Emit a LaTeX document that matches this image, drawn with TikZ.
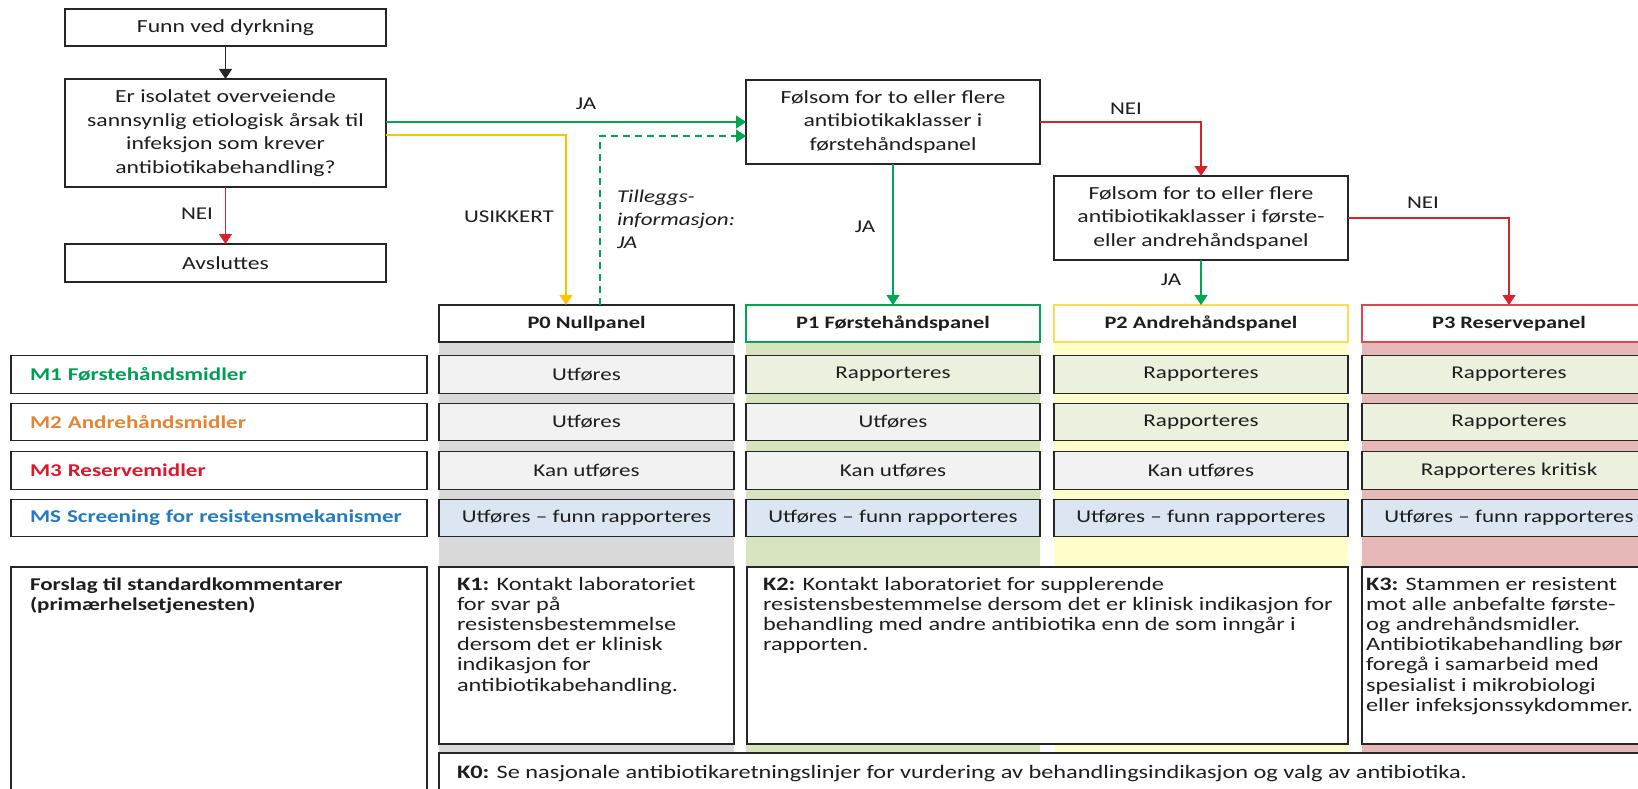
\documentclass[tikz,border=0pt]{standalone}
\usepackage{fontspec}
\setmainfont{Carlito}[FakeStretch=1.28]
\usetikzlibrary{arrows.meta}
\definecolor{cgreen}{RGB}{0,166,81}
\definecolor{cyellow}{RGB}{255,192,0}
\definecolor{cred}{RGB}{222,32,44}
\definecolor{tgreen}{RGB}{0,158,84}
\definecolor{torange}{RGB}{228,132,52}
\definecolor{tred}{RGB}{222,24,44}
\definecolor{tblue}{RGB}{36,124,190}
\definecolor{bgzero}{RGB}{217,217,217}
\definecolor{bgone}{RGB}{215,228,189}
\definecolor{bgtwo}{RGB}{255,255,204}
\definecolor{bgthree}{RGB}{230,185,184}
\definecolor{cgrey}{RGB}{242,242,242}
\definecolor{colive}{RGB}{235,241,222}
\definecolor{cblue}{RGB}{220,230,242}
\definecolor{hyellow}{RGB}{250,220,90}
\definecolor{hred}{RGB}{222,70,80}
\definecolor{txt}{RGB}{30,30,30}
\newcommand\fsflow{\fontsize{18.5}{23.5}\selectfont}
\newcommand\fscell{\fontsize{18}{22}\selectfont}
\newcommand\fshead{\fontsize{17.5}{21}\selectfont\bfseries}
\newcommand\fsK{\fontsize{19}{20.2}\selectfont}
\newcommand\fslab{\fontsize{18}{23}\selectfont}
\begin{document}
\begin{tikzpicture}[x=1pt,y=-1pt,
  every node/.style={inner sep=0pt, outer sep=0pt, text=txt},
  wh/.style 2 args={minimum width=#1pt, minimum height=#2pt},
  fbox/.style={draw=black!85, line width=1.3pt, fill=white, align=center, font=\fsflow},
  cell/.style={draw=black!85, line width=1.3pt, align=center, font=\fscell, wh={295}{37.5}},
  grey/.style={cell, fill=cgrey},
  olive/.style={cell, fill=colive},
  blue/.style={cell, fill=cblue},
  head/.style={line width=1.2pt, fill=white, font=\fshead, wh={295}{37}},
  rowlab/.style={draw=black!85, line width=1.3pt, fill=white, font=\fscell\bfseries, text width=378pt, align=left, inner xsep=19pt, minimum height=37.5pt},
  kbox/.style={draw=black!85, line width=1.3pt, fill=white, anchor=north west},
  ktext/.style={anchor=north west, align=left, font=\fsK},
  lab/.style={font=\fslab},
  arr/.style={line width=1.3pt, -{Triangle[width=13pt,length=10pt]}}
]
\useasboundingbox (0,0) rectangle (1638,789);
\clip (0,0) rectangle (1638,789);
\fill[white] (0,0) rectangle (1638,789);

% flowchart boxes
\node[fbox, wh={321}{37}] (funn) at (225.5,27.5) {Funn ved dyrkning};
\node[fbox, wh={321}{108}] (q) at (225.5,133) {Er isolatet overveiende\\sannsynlig etiologisk årsak til\\infeksjon som krever\\antibiotikabehandling?};
\node[fbox, wh={321}{38}] (avs) at (225.5,263) {Avsluttes};
\node[fbox, wh={294}{84}] (f1) at (893,122) {Følsom for to eller flere\\antibiotikaklasser i\\førstehåndspanel};
\node[fbox, wh={294}{84}] (f2) at (1201,218) {Følsom for to eller flere\\antibiotikaklasser i første-\\eller andrehåndspanel};

% column backgrounds
\node[fill=bgzero, wh={295}{448}, anchor=north west] (bg0) at (439,305) {};
\node[fill=bgone, wh={294}{448}, anchor=north west] (bg1) at (746,305) {};
\node[fill=bgtwo, wh={294}{448}, anchor=north west] (bg2) at (1054,305) {};
\node[fill=bgthree, wh={294}{448}, anchor=north west] (bg3) at (1362,305) {};

% headers
\node[head, draw=black!85] (h0) at (586.5,323.5) {P0 Nullpanel};
\node[head, draw=cgreen, wh={294}{37}] (h1) at (893,323.5) {P1 Førstehåndspanel};
\node[head, draw=hyellow, wh={294}{37}] (h2) at (1201,323.5) {P2 Andrehåndspanel};
\node[head, draw=hred, wh={294}{37}] (h3) at (1509,323.5) {P3 Reservepanel};

% row labels
\node[rowlab, text=tgreen] (m1) at (219,374.5) {M1 Førstehåndsmidler};
\node[rowlab, text=torange] (m2) at (219,422) {M2 Andrehåndsmidler};
\node[rowlab, text=tred] (m3) at (219,470.5) {M3 Reservemidler};
\node[rowlab, text=tblue] (ms) at (219,518) {MS Screening for resistensmekanismer};

% P0 cells
\node[grey] (c01) at (586.5,374.5) {Utføres};
\node[grey] (c02) at (586.5,422) {Utføres};
\node[grey] (c03) at (586.5,470.5) {Kan utføres};
\node[blue] (c04) at (586.5,518) {Utføres – funn rapporteres};
% P1 cells
\node[olive, wh={294}{37.5}] (c11) at (893,374.5) {Rapporteres};
\node[grey, wh={294}{37.5}] (c12) at (893,422) {Utføres};
\node[grey, wh={294}{37.5}] (c13) at (893,470.5) {Kan utføres};
\node[blue, wh={294}{37.5}] (c14) at (893,518) {Utføres – funn rapporteres};
% P2 cells
\node[olive, wh={294}{37.5}] (c21) at (1201,374.5) {Rapporteres};
\node[olive, wh={294}{37.5}] (c22) at (1201,422) {Rapporteres};
\node[grey, wh={294}{37.5}] (c23) at (1201,470.5) {Kan utføres};
\node[blue, wh={294}{37.5}] (c24) at (1201,518) {Utføres – funn rapporteres};
% P3 cells
\node[olive, wh={294}{37.5}] (c31) at (1509,374.5) {Rapporteres};
\node[olive, wh={294}{37.5}] (c32) at (1509,422) {Rapporteres};
\node[olive, wh={294}{37.5}] (c33) at (1509,470.5) {Rapporteres kritisk};
\node[blue, wh={294}{37.5}] (c34) at (1509,518) {Utføres – funn rapporteres};

% comments
\node[kbox, wh={416}{240}] (forslag) at (11,567) {};
\node[ktext, font=\fontsize{18}{20.2}\selectfont\bfseries] (forslagtxt) at (30,576) {\strut Forslag til standardkommentarer\\(primærhelsetjenesten)};
\node[kbox, wh={295}{177}] (k1) at (439,567) {};
\node[ktext] (k1t) at (457,576) {\strut\textbf{K1:} Kontakt laboratoriet\\for svar på\\resistensbestemmelse\\dersom det er klinisk\\indikasjon for\\antibiotikabehandling.};
\node[kbox, wh={601}{177}] (k2) at (747,567) {};
\node[ktext] (k2t) at (763,576) {\strut\textbf{K2:} Kontakt laboratoriet for supplerende\\resistensbestemmelse dersom det er klinisk indikasjon for\\behandling med andre antibiotika enn de som inngår i\\rapporten.};
\node[kbox, wh={294}{177}] (k3) at (1362,567) {};
\node[ktext] (k3t) at (1366,576) {\strut\textbf{K3:} Stammen er resistent\\mot alle anbefalte første-\\og andrehåndsmidler.\\Antibiotikabehandling bør\\foregå i samarbeid med\\spesialist i mikrobiologi\\eller infeksjonssykdommer.};
\node[kbox, wh={1260}{60}] (k0) at (439,753) {};
\node[ktext] (k0t) at (457,764) {\strut\textbf{K0:} Se nasjonale antibiotikaretningslinjer for vurdering av behandlingsindikasjon og valg av antibiotika.};

% connectors
\coordinate (yx) at (566,135);
\coordinate (dx) at (600,136);
\draw[arr, black!85] (funn) -- (q);
\draw[arr, cred] (q) -- (avs);
\draw[arr, cgreen] (q.east |- f1.west) -- (f1.west);
\draw[arr, cyellow] (q.east |- yx) -| (yx |- h0.north);
\draw[arr, cgreen, dash pattern=on 7pt off 5pt] (dx |- h0.north) |- (f1.west |- dx);
\draw[arr, cgreen] (f1) -- (h1);
\draw[arr, cred] (f1.east) -| (f2.north);
\draw[arr, cgreen] (f2) -- (h2);
\draw[arr, cred] (f2.east) -| (h3.north);

% labels
\node[lab] (ja1) at (586,104) {JA};
\node[lab] (nei1) at (1126,109) {NEI};
\node[lab] (nei0) at (197,214) {NEI};
\node[lab] (usikk) at (509,217) {USIKKERT};
\node[lab, anchor=north west, align=left, font=\fslab\itshape] (tillegg) at (617,186) {\strut Tilleggs-\\informasjon:\\JA};
\node[lab] (ja2) at (865,227) {JA};
\node[lab] (ja3) at (1171,280) {JA};
\node[lab] (nei2) at (1423,203) {NEI};
\end{tikzpicture}
\end{document}
